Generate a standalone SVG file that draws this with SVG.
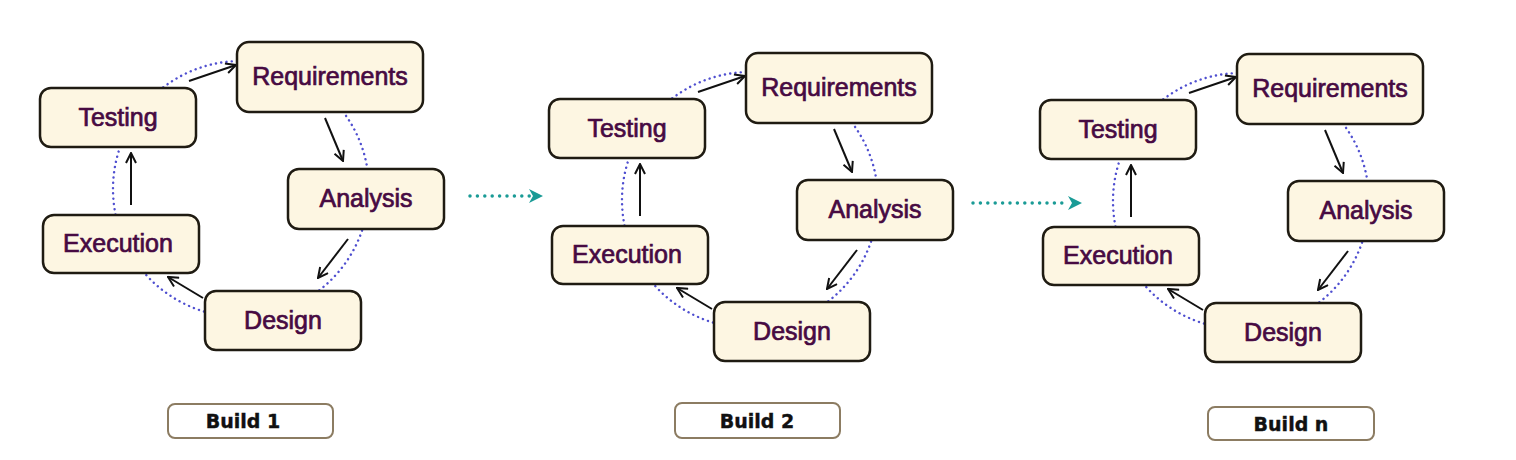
<svg xmlns="http://www.w3.org/2000/svg" width="1516" height="460" viewBox="0 0 1516 460">
<defs>
<marker id="ah" viewBox="0 0 12 12" refX="11" refY="6" markerWidth="12" markerHeight="12" markerUnits="userSpaceOnUse" orient="auto">
<path d="M1,1 L11,6 L1,11" fill="none" stroke="#111" stroke-width="2" stroke-linejoin="miter"/>
</marker>
</defs>
<style>
.box{fill:#fdf6e2;stroke:#1f1b12;stroke-width:2.5}
.nt{font-family:"Liberation Sans",Arial,sans-serif;font-size:25px;fill:#470a42;stroke:#470a42;stroke-width:0.7;text-anchor:middle}
.ring{fill:none;stroke:#4f4fd0;stroke-width:2.4;stroke-dasharray:0.1 5.2;stroke-linecap:round}
.ar{stroke:#111;stroke-width:2;fill:none;marker-end:url(#ah)}
.lb{fill:#fff;stroke:#8c7c62;stroke-width:2}
.lt{font-family:"DejaVu Sans",Verdana,sans-serif;font-weight:bold;font-size:19px;fill:#111;stroke:#111;stroke-width:0.4;text-anchor:middle}
.tdot{stroke:#1a9b96;stroke-width:3.5;stroke-dasharray:0 7.4;stroke-linecap:round;fill:none}
.thead{fill:#1a9b96}
</style>
<rect width="1516" height="460" fill="#fff"/>

<g id="build1">
<circle class="ring" cx="241" cy="189" r="128"/>
<g id="b1-connectors">
<line class="ar" x1="189" y1="81" x2="236" y2="65"/>
<line class="ar" x1="325" y1="118" x2="343" y2="161"/>
<line class="ar" x1="348" y1="239" x2="318" y2="278"/>
<line class="ar" x1="203" y1="298" x2="168" y2="277"/>
<line class="ar" x1="131" y1="205" x2="131" y2="153"/>
</g>
<g id="b1-requirements"><rect class="box" x="237" y="42" width="186" height="70" rx="12"/><text class="nt" x="330" y="85">Requirements</text></g>
<g id="b1-testing"><rect class="box" x="40" y="88" width="156" height="59" rx="11"/><text class="nt" x="118" y="126">Testing</text></g>
<g id="b1-analysis"><rect class="box" x="288" y="169" width="156" height="60" rx="11"/><text class="nt" x="366" y="207">Analysis</text></g>
<g id="b1-execution"><rect class="box" x="43" y="215" width="156" height="58" rx="11"/><text class="nt" x="118" y="252">Execution</text></g>
<g id="b1-design"><rect class="box" x="205" y="291" width="156" height="59" rx="11"/><text class="nt" x="283" y="329">Design</text></g>
<g id="b1-label"><rect class="lb" x="168" y="404" width="165" height="34" rx="7"/><text class="lt" x="243" y="428">Build 1</text></g>
</g>

<g id="build2" transform="translate(509,11)">
<circle class="ring" cx="241" cy="189" r="128"/>
<g id="b2-connectors">
<line class="ar" x1="189" y1="81" x2="236" y2="65"/>
<line class="ar" x1="325" y1="118" x2="343" y2="161"/>
<line class="ar" x1="348" y1="239" x2="318" y2="278"/>
<line class="ar" x1="203" y1="298" x2="168" y2="277"/>
<line class="ar" x1="131" y1="205" x2="131" y2="153"/>
</g>
<g id="b2-requirements"><rect class="box" x="237" y="42" width="186" height="70" rx="12"/><text class="nt" x="330" y="85">Requirements</text></g>
<g id="b2-testing"><rect class="box" x="40" y="88" width="156" height="59" rx="11"/><text class="nt" x="118" y="126">Testing</text></g>
<g id="b2-analysis"><rect class="box" x="288" y="169" width="156" height="60" rx="11"/><text class="nt" x="366" y="207">Analysis</text></g>
<g id="b2-execution"><rect class="box" x="43" y="215" width="156" height="58" rx="11"/><text class="nt" x="118" y="252">Execution</text></g>
<g id="b2-design"><rect class="box" x="205" y="291" width="156" height="59" rx="11"/><text class="nt" x="283" y="329">Design</text></g>
</g>
<g id="b2-label"><rect class="lb" x="675" y="403" width="165" height="35" rx="7"/><text class="lt" x="757" y="428">Build 2</text></g>

<g id="buildn" transform="translate(1000,12)">
<circle class="ring" cx="241" cy="189" r="128"/>
<g id="bn-connectors">
<line class="ar" x1="189" y1="81" x2="236" y2="65"/>
<line class="ar" x1="325" y1="118" x2="343" y2="161"/>
<line class="ar" x1="348" y1="239" x2="318" y2="278"/>
<line class="ar" x1="203" y1="298" x2="168" y2="277"/>
<line class="ar" x1="131" y1="205" x2="131" y2="153"/>
</g>
<g id="bn-requirements"><rect class="box" x="237" y="42" width="186" height="70" rx="12"/><text class="nt" x="330" y="85">Requirements</text></g>
<g id="bn-testing"><rect class="box" x="40" y="88" width="156" height="59" rx="11"/><text class="nt" x="118" y="126">Testing</text></g>
<g id="bn-analysis"><rect class="box" x="288" y="169" width="156" height="60" rx="11"/><text class="nt" x="366" y="207">Analysis</text></g>
<g id="bn-execution"><rect class="box" x="43" y="215" width="156" height="58" rx="11"/><text class="nt" x="118" y="252">Execution</text></g>
<g id="bn-design"><rect class="box" x="205" y="291" width="156" height="59" rx="11"/><text class="nt" x="283" y="329">Design</text></g>
</g>
<g id="bn-label"><rect class="lb" x="1208" y="407" width="166" height="33" rx="7"/><text class="lt" x="1291" y="431">Build n</text></g>

<g id="transitions">
<line class="tdot" x1="470" y1="196" x2="530" y2="196"/>
<path class="thead" d="M543,196 L529,189 L533,196 L529,203 Z"/>
<line class="tdot" x1="973" y1="203" x2="1068" y2="203"/>
<path class="thead" d="M1082,203 L1068,196 L1072,203 L1068,210 Z"/>
</g>
</svg>
